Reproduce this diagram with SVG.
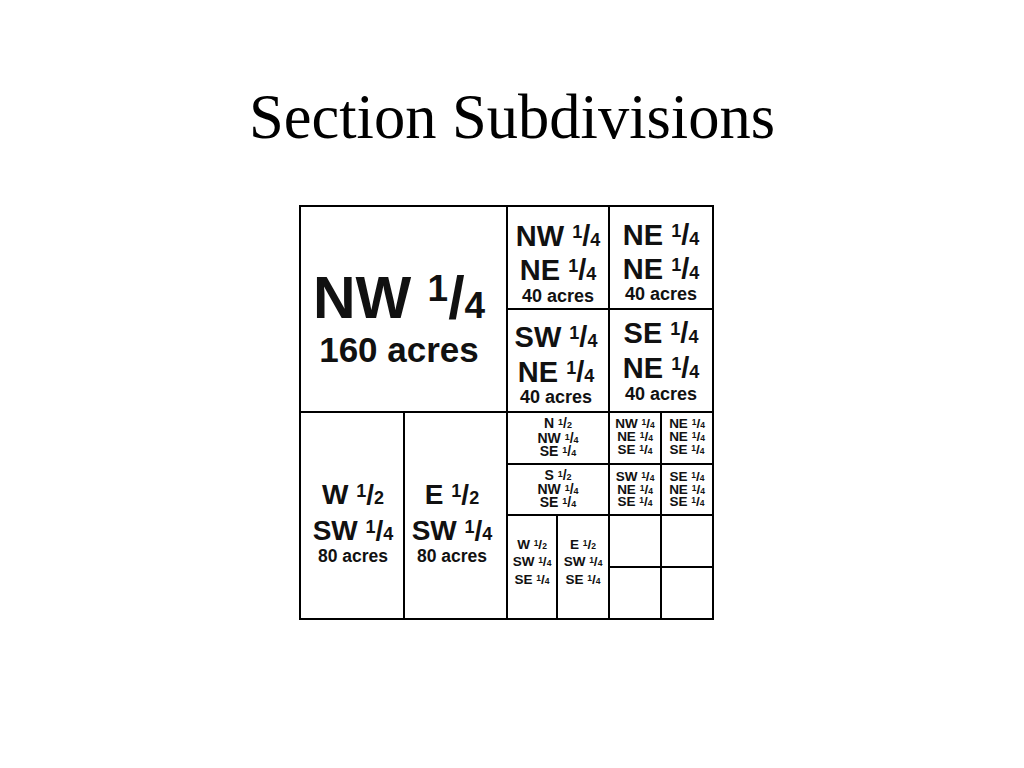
<svg xmlns="http://www.w3.org/2000/svg" width="1024" height="768" viewBox="0 0 1024 768">
<style>
.t{font-family:"Liberation Sans",Arial,sans-serif;font-weight:bold;fill:#111;text-anchor:middle}
.title{font-family:"Liberation Serif","Times New Roman",serif;font-size:62.5px;fill:#000;text-anchor:middle}
.ln{stroke:#000;stroke-width:2;fill:none}
</style>
<rect width="1024" height="768" fill="#fff"/>
<text class="title" x="512" y="138">Section Subdivisions</text>
<g id="connectors">
<rect class="ln" x="300" y="206" width="413" height="413"/>
<line class="ln" x1="507" y1="206" x2="507" y2="619"/>
<line class="ln" x1="300" y1="412" x2="713" y2="412"/>
<line class="ln" x1="404" y1="412" x2="404" y2="619"/>
<line class="ln" x1="609" y1="206" x2="609" y2="619"/>
<line class="ln" x1="507" y1="309" x2="713" y2="309"/>
<line class="ln" x1="507" y1="515" x2="713" y2="515"/>
<line class="ln" x1="507" y1="464" x2="713" y2="464"/>
<line class="ln" x1="661" y1="412" x2="661" y2="619"/>
<line class="ln" x1="557" y1="515" x2="557" y2="619"/>
<line class="ln" x1="609" y1="567" x2="713" y2="567"/>
</g>
<g id="nw">
<text class="t" x="399" y="318" font-size="59">NW <tspan font-size="37" dy="-17">1</tspan><tspan dy="17">/</tspan><tspan font-size="37">4</tspan></text>
<text class="t" x="399" y="362" font-size="35">160 acres</text>
</g>
<g id="nw-ne">
<text class="t" x="558" y="246" font-size="29">NW <tspan font-size="18" dy="-8">1</tspan><tspan dy="8">/</tspan><tspan font-size="18">4</tspan></text>
<text class="t" x="558" y="280" font-size="29">NE <tspan font-size="18" dy="-8">1</tspan><tspan dy="8">/</tspan><tspan font-size="18">4</tspan></text>
<text class="t" x="558" y="302" font-size="18">40 acres</text>
</g>
<g id="ne-ne">
<text class="t" x="661" y="245" font-size="29">NE <tspan font-size="18" dy="-8">1</tspan><tspan dy="8">/</tspan><tspan font-size="18">4</tspan></text>
<text class="t" x="661" y="279" font-size="29">NE <tspan font-size="18" dy="-8">1</tspan><tspan dy="8">/</tspan><tspan font-size="18">4</tspan></text>
<text class="t" x="661" y="300" font-size="18">40 acres</text>
</g>
<g id="sw-ne">
<text class="t" x="556" y="347" font-size="29">SW <tspan font-size="18" dy="-8">1</tspan><tspan dy="8">/</tspan><tspan font-size="18">4</tspan></text>
<text class="t" x="556" y="382" font-size="29">NE <tspan font-size="18" dy="-8">1</tspan><tspan dy="8">/</tspan><tspan font-size="18">4</tspan></text>
<text class="t" x="556" y="403" font-size="18">40 acres</text>
</g>
<g id="se-ne">
<text class="t" x="661" y="343" font-size="29">SE <tspan font-size="18" dy="-8">1</tspan><tspan dy="8">/</tspan><tspan font-size="18">4</tspan></text>
<text class="t" x="661" y="378" font-size="29">NE <tspan font-size="18" dy="-8">1</tspan><tspan dy="8">/</tspan><tspan font-size="18">4</tspan></text>
<text class="t" x="661" y="400" font-size="18">40 acres</text>
</g>
<g id="w-sw">
<text class="t" x="353" y="504" font-size="28">W <tspan font-size="18" dy="-7.5">1</tspan><tspan dy="7.5">/</tspan><tspan font-size="18">2</tspan></text>
<text class="t" x="353" y="540" font-size="28">SW <tspan font-size="18" dy="-7.5">1</tspan><tspan dy="7.5">/</tspan><tspan font-size="18">4</tspan></text>
<text class="t" x="353" y="562" font-size="17.5">80 acres</text>
</g>
<g id="e-sw">
<text class="t" x="452" y="504" font-size="28">E <tspan font-size="18" dy="-7.5">1</tspan><tspan dy="7.5">/</tspan><tspan font-size="18">2</tspan></text>
<text class="t" x="452" y="540" font-size="28">SW <tspan font-size="18" dy="-7.5">1</tspan><tspan dy="7.5">/</tspan><tspan font-size="18">4</tspan></text>
<text class="t" x="452" y="562" font-size="17.5">80 acres</text>
</g>
<g id="n-nw-se">
<text class="t" x="558" y="428" font-size="14">N <tspan font-size="9" dy="-3.5">1</tspan><tspan dy="3.5">/</tspan><tspan font-size="9">2</tspan></text>
<text class="t" x="558" y="443" font-size="14">NW <tspan font-size="9" dy="-3.5">1</tspan><tspan dy="3.5">/</tspan><tspan font-size="9">4</tspan></text>
<text class="t" x="558" y="456" font-size="14">SE <tspan font-size="9" dy="-3.5">1</tspan><tspan dy="3.5">/</tspan><tspan font-size="9">4</tspan></text>
</g>
<g id="s-nw-se">
<text class="t" x="558" y="480" font-size="14">S <tspan font-size="9" dy="-3.5">1</tspan><tspan dy="3.5">/</tspan><tspan font-size="9">2</tspan></text>
<text class="t" x="558" y="494" font-size="14">NW <tspan font-size="9" dy="-3.5">1</tspan><tspan dy="3.5">/</tspan><tspan font-size="9">4</tspan></text>
<text class="t" x="558" y="507" font-size="14">SE <tspan font-size="9" dy="-3.5">1</tspan><tspan dy="3.5">/</tspan><tspan font-size="9">4</tspan></text>
</g>
<g id="nw-ne-se">
<text class="t" x="635" y="428" font-size="13.5">NW <tspan font-size="8.5" dy="-3.5">1</tspan><tspan dy="3.5">/</tspan><tspan font-size="8.5">4</tspan></text>
<text class="t" x="635" y="441" font-size="13.5">NE <tspan font-size="8.5" dy="-3.5">1</tspan><tspan dy="3.5">/</tspan><tspan font-size="8.5">4</tspan></text>
<text class="t" x="635" y="454" font-size="13.5">SE <tspan font-size="8.5" dy="-3.5">1</tspan><tspan dy="3.5">/</tspan><tspan font-size="8.5">4</tspan></text>
</g>
<g id="ne-ne-se">
<text class="t" x="687" y="428" font-size="13.5">NE <tspan font-size="8.5" dy="-3.5">1</tspan><tspan dy="3.5">/</tspan><tspan font-size="8.5">4</tspan></text>
<text class="t" x="687" y="441" font-size="13.5">NE <tspan font-size="8.5" dy="-3.5">1</tspan><tspan dy="3.5">/</tspan><tspan font-size="8.5">4</tspan></text>
<text class="t" x="687" y="454" font-size="13.5">SE <tspan font-size="8.5" dy="-3.5">1</tspan><tspan dy="3.5">/</tspan><tspan font-size="8.5">4</tspan></text>
</g>
<g id="sw-ne-se">
<text class="t" x="635" y="481" font-size="13.5">SW <tspan font-size="8.5" dy="-3.5">1</tspan><tspan dy="3.5">/</tspan><tspan font-size="8.5">4</tspan></text>
<text class="t" x="635" y="494" font-size="13.5">NE <tspan font-size="8.5" dy="-3.5">1</tspan><tspan dy="3.5">/</tspan><tspan font-size="8.5">4</tspan></text>
<text class="t" x="635" y="506" font-size="13.5">SE <tspan font-size="8.5" dy="-3.5">1</tspan><tspan dy="3.5">/</tspan><tspan font-size="8.5">4</tspan></text>
</g>
<g id="se-ne-se">
<text class="t" x="687" y="481" font-size="13.5">SE <tspan font-size="8.5" dy="-3.5">1</tspan><tspan dy="3.5">/</tspan><tspan font-size="8.5">4</tspan></text>
<text class="t" x="687" y="494" font-size="13.5">NE <tspan font-size="8.5" dy="-3.5">1</tspan><tspan dy="3.5">/</tspan><tspan font-size="8.5">4</tspan></text>
<text class="t" x="687" y="506" font-size="13.5">SE <tspan font-size="8.5" dy="-3.5">1</tspan><tspan dy="3.5">/</tspan><tspan font-size="8.5">4</tspan></text>
</g>
<g id="w-sw-se">
<text class="t" x="532" y="549" font-size="13.5">W <tspan font-size="8.5" dy="-3.5">1</tspan><tspan dy="3.5">/</tspan><tspan font-size="8.5">2</tspan></text>
<text class="t" x="532" y="566" font-size="13.5">SW <tspan font-size="8.5" dy="-3.5">1</tspan><tspan dy="3.5">/</tspan><tspan font-size="8.5">4</tspan></text>
<text class="t" x="532" y="584" font-size="13.5">SE <tspan font-size="8.5" dy="-3.5">1</tspan><tspan dy="3.5">/</tspan><tspan font-size="8.5">4</tspan></text>
</g>
<g id="e-sw-se">
<text class="t" x="583" y="549" font-size="13.5">E <tspan font-size="8.5" dy="-3.5">1</tspan><tspan dy="3.5">/</tspan><tspan font-size="8.5">2</tspan></text>
<text class="t" x="583" y="566" font-size="13.5">SW <tspan font-size="8.5" dy="-3.5">1</tspan><tspan dy="3.5">/</tspan><tspan font-size="8.5">4</tspan></text>
<text class="t" x="583" y="584" font-size="13.5">SE <tspan font-size="8.5" dy="-3.5">1</tspan><tspan dy="3.5">/</tspan><tspan font-size="8.5">4</tspan></text>
</g>
</svg>
